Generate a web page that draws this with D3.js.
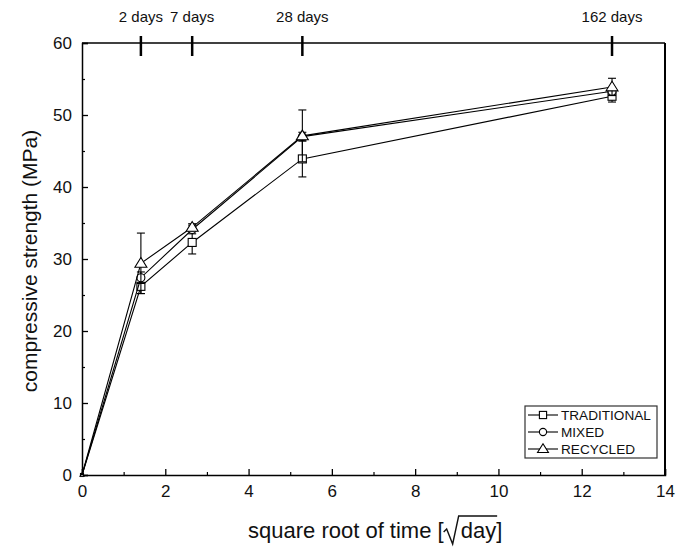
<!DOCTYPE html>
<html><head><meta charset="utf-8">
<script src="https://cdn.jsdelivr.net/npm/d3@7"></script>
<style>body{margin:0;background:#fff}svg{display:block}text{font-family:"Liberation Sans",Arial,sans-serif;fill:#111}</style>
</head><body>
<svg id="c" width="686" height="547"></svg>
<script>
const seriesNames = ["TRADITIONAL","MIXED","RECYCLED"];
const markerTypes = ["square","circle","triangle"];
const ages = [0, 2, 7, 28, 162];           // days
const traditional = [0, 26.2, 32.3, 43.9, 52.6];
const traditionalErr = [0, 1.0, 1.6, 2.5, 0.8];
const mixed = [0, 27.4, 34.1, 47.0, 53.3];
const mixedErr = [0, 0.8, 0.6, 0.6, 0.5];
const recycled = [0, 29.4, 34.4, 47.1, 53.9];
const recycledErr = [0, 4.2, 0.5, 3.6, 1.2];
const topTickDays = [2, 7, 28, 162];
const topTickLabels = ["2 days","7 days","28 days","162 days"];
const xTicks = [0,2,4,6,8,10,12,14];
const yTicks = [0,10,20,30,40,50,60];

const svg = d3.select("#c");
const L=82,R=665,T=43,B=475;
const x = d3.scaleLinear().domain([0,14]).range([L,R]);
const y = d3.scaleLinear().domain([0,60]).range([B,T]);

const values=[traditional,mixed,recycled];
const errs=[traditionalErr,mixedErr,recycledErr];

const g = svg.append("g");
g.append("line").attr("x1",L).attr("x2",R).attr("y1",T).attr("y2",T).attr("stroke","#000").attr("stroke-width",1.5);
g.append("line").attr("x1",R).attr("x2",R).attr("y1",T).attr("y2",B).attr("stroke","#000").attr("stroke-width",2);

const xAx = g.append("g").attr("transform",`translate(0,${B})`)
  .call(d3.axisBottom(x).tickValues(xTicks).tickSize(-6).tickPadding(10).tickFormat(d3.format("d")));
xAx.select(".domain").attr("stroke-width",1.5);
xAx.selectAll(".tick line").attr("stroke-width",1.3);
xAx.selectAll("text").attr("font-size",17).attr("fill","#111");
g.append("g").attr("transform",`translate(0,${B})`)
  .call(d3.axisBottom(x).tickValues(d3.range(1,14,2)).tickSize(-3).tickFormat(""))
  .call(a=>a.select(".domain").remove()).selectAll("line").attr("stroke-width",1.2);

const yAx = g.append("g").attr("transform",`translate(${L},0)`)
  .call(d3.axisLeft(y).tickValues(yTicks).tickSize(-6).tickPadding(10).tickFormat(d3.format("d")));
yAx.select(".domain").attr("stroke-width",1.5);
yAx.selectAll(".tick line").attr("stroke-width",1.3);
yAx.selectAll("text").attr("font-size",17).attr("fill","#111");
g.append("g").attr("transform",`translate(${L},0)`)
  .call(d3.axisLeft(y).tickValues(d3.range(5,60,10)).tickSize(-3).tickFormat(""))
  .call(a=>a.select(".domain").remove()).selectAll("line").attr("stroke-width",1.2);

const topG = g.append("g");
topTickDays.forEach((d,i)=>{
  const xx = x(Math.sqrt(d));
  topG.append("line").attr("x1",xx).attr("x2",xx).attr("y1",T-7).attr("y2",T+13).attr("stroke","#000").attr("stroke-width",2.5);
  topG.append("text").attr("x",xx).attr("y",T-21).attr("text-anchor","middle").attr("font-size",15).text(topTickLabels[i]);
});

const xs = ages.map(a=>Math.sqrt(a));
const line = d3.line().x((d,i)=>x(xs[i])).y(d=>y(d));

function marker(sel,type,cx,cy,s){
  if(type==="square") sel.append("rect").attr("x",cx-s).attr("y",cy-s).attr("width",2*s).attr("height",2*s);
  else if(type==="circle") sel.append("circle").attr("cx",cx).attr("cy",cy).attr("r",s);
  else sel.append("path").attr("d",`M${cx},${cy-s*1.25}L${cx+s*1.3},${cy+s*0.85}L${cx-s*1.3},${cy+s*0.85}Z`);
}

values.forEach((vals,si)=>{
  const sg = svg.append("g").attr("fill","#fff").attr("stroke","#000").attr("stroke-width",1.1);
  sg.append("path").datum(vals).attr("fill","none").attr("d",line);
  vals.forEach((v,i)=>{
    const cx=x(xs[i]), e=errs[si][i];
    if(e>0){
      const y1=y(v+e), y2=y(v-e);
      sg.append("line").attr("x1",cx).attr("x2",cx).attr("y1",y1).attr("y2",y2);
      sg.append("line").attr("x1",cx-4).attr("x2",cx+4).attr("y1",y1).attr("y2",y1);
      sg.append("line").attr("x1",cx-4).attr("x2",cx+4).attr("y1",y2).attr("y2",y2);
    }
    marker(sg,markerTypes[si],cx,y(v),i===0?1.5:(si===2?4.6:4));
  });
});

const lg = svg.append("g");
lg.append("rect").attr("x",525).attr("y",406).attr("width",132).attr("height",52).attr("fill","#fff").attr("stroke","#333").attr("stroke-width",1.2);
seriesNames.forEach((n,i)=>{
  const yy=415+i*17;
  const eg = lg.append("g").attr("fill","#fff").attr("stroke","#000").attr("stroke-width",1.1);
  eg.append("line").attr("x1",528).attr("x2",558).attr("y1",yy).attr("y2",yy);
  marker(eg,markerTypes[i],543,yy,i===2?4.2:3.6);
  lg.append("text").attr("x",561).attr("y",yy+5).attr("font-size",13.6).text(n);
});

svg.append("text").attr("transform","translate(37,261) rotate(-90)").attr("text-anchor","middle").attr("font-size",21).text("compressive strength (MPa)");

// x title with radical
const xt = svg.append("text").attr("x",248).attr("y",538).attr("font-size",22);
xt.append("tspan").text("square root of time [");
xt.append("tspan").attr("dx",17).text("day");
xt.append("tspan").text("]");
const xtNode = xt.node();
const di = xtNode.textContent.indexOf("day");
const ds = xtNode.getStartPositionOfChar(di).x, de = xtNode.getEndPositionOfChar(di+2).x;
const radTop = 516;
svg.append("path").attr("fill","none").attr("stroke","#111").attr("stroke-width",1.4)
  .attr("d",`M${ds-17},${532}L${ds-14},${529}L${ds-8},${544}L${ds-2},${radTop}L${de+1},${radTop}`);
</script>
</body></html>
